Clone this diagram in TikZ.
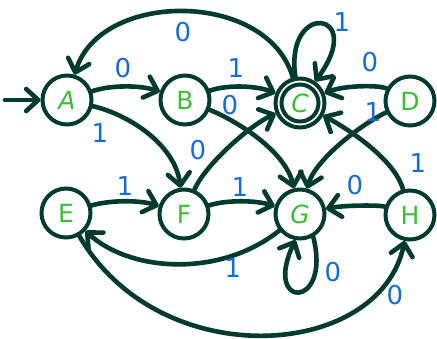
\documentclass[tikz,border=0pt]{standalone}
\usepackage{fontspec}
\setmainfont{DejaVu Sans}
\usetikzlibrary{arrows.meta}
\definecolor{edgegreen}{RGB}{0,59,46}
\definecolor{labelblue}{RGB}{22,108,212}
\definecolor{stategreen}{RGB}{58,190,58}
\tikzset{
  state/.style={circle, draw=edgegreen, line width=4pt, fill=white,
    minimum size=49pt, inner sep=0pt, font=\fontsize{25}{25}\selectfont,
    text=stategreen},
  edge/.style={draw=edgegreen, line width=4.6pt, line cap=round, line join=round,
    -{Straight Barb[length=12pt,width=22pt,round]}},
  lab/.style={text=labelblue, font=\fontsize{26}{26}\selectfont, inner sep=0pt}
}
\begin{document}
\begin{tikzpicture}[x=1pt,y=-1pt]
\useasboundingbox (0,0) rectangle (437,338);

% states
\node[state] (A) at (67,100) {\textit{A}};
\node[state] (B) at (185,100) {B};
\node[state] (C) at (300,103) {\textit{C}};
\node[state] (D) at (410,101) {D};
\node[state] (E) at (66,213) {E};
\node[state] (F) at (184,214) {F};
\node[state] (G) at (300,214) {\textit{G}};
\node[state] (H) at (410,215) {H};
% accepting ring of C
\draw[edgegreen, line width=4pt] (C.center) circle (18.5pt);

% initial arrow
\coordinate (init) at (5,100);
\draw[edge] (init) -- (A);

% transitions
\draw[edge] (C) .. controls (268,-10) and (100,-10) .. (A);
\draw[edge] (A) .. controls (110,85) and (140,85) .. (B);
\draw[edge] (A) .. controls (130,115) and (175,145) .. (F);
\draw[edge] (B) .. controls (225,85) and (255,85) .. (C);
\draw[edge] (B) .. controls (235,120) and (285,150) .. (G);
\draw[edge] (F) .. controls (205,165) and (250,125) .. (C);
\draw[edge] (C.100) .. controls (284,0) and (368,10) .. (C.55);
\draw[edge] (D) .. controls (380,85) and (345,85) .. (C);
\draw[edge] (D) .. controls (360,125) and (315,160) .. (G);
\draw[edge] (H) .. controls (395,160) and (350,130) .. (C);
\draw[edge] (E) .. controls (110,200) and (140,200) .. (F);
\draw[edge] (F) .. controls (225,200) and (255,200) .. (G);
\draw[edge] (G) .. controls (220,278) and (130,272) .. (E);
\draw[edge] (H) .. controls (380,205) and (345,205) .. (G);
\draw[edge] (G.-60) .. controls (332,310) and (262,310) .. (G.-100);
\draw[edge] (E) .. controls (160,375) and (380,360) .. (H);

% transition labels
\node[lab] (lCA) at (183,32) {0};
\node[lab] (lAB) at (123,68) {0};
\node[lab] (lAF) at (100,133) {1};
\node[lab] (lBC) at (236,68) {1};
\node[lab] (lBG) at (230,105) {0};
\node[lab] (lFC) at (198,150) {0};
\node[lab] (lCC) at (342,22) {1};
\node[lab] (lDC) at (370,62) {0};
\node[lab] (lDG) at (373,112) {1};
\node[lab] (lHC) at (418,163) {1};
\node[lab] (lEF) at (125,186) {1};
\node[lab] (lFG) at (240,187) {1};
\node[lab] (lGE) at (233,268) {1};
\node[lab] (lHG) at (355,185) {0};
\node[lab] (lGG) at (333,272) {0};
\node[lab] (lEH) at (395,295) {0};
\end{tikzpicture}
\end{document}
